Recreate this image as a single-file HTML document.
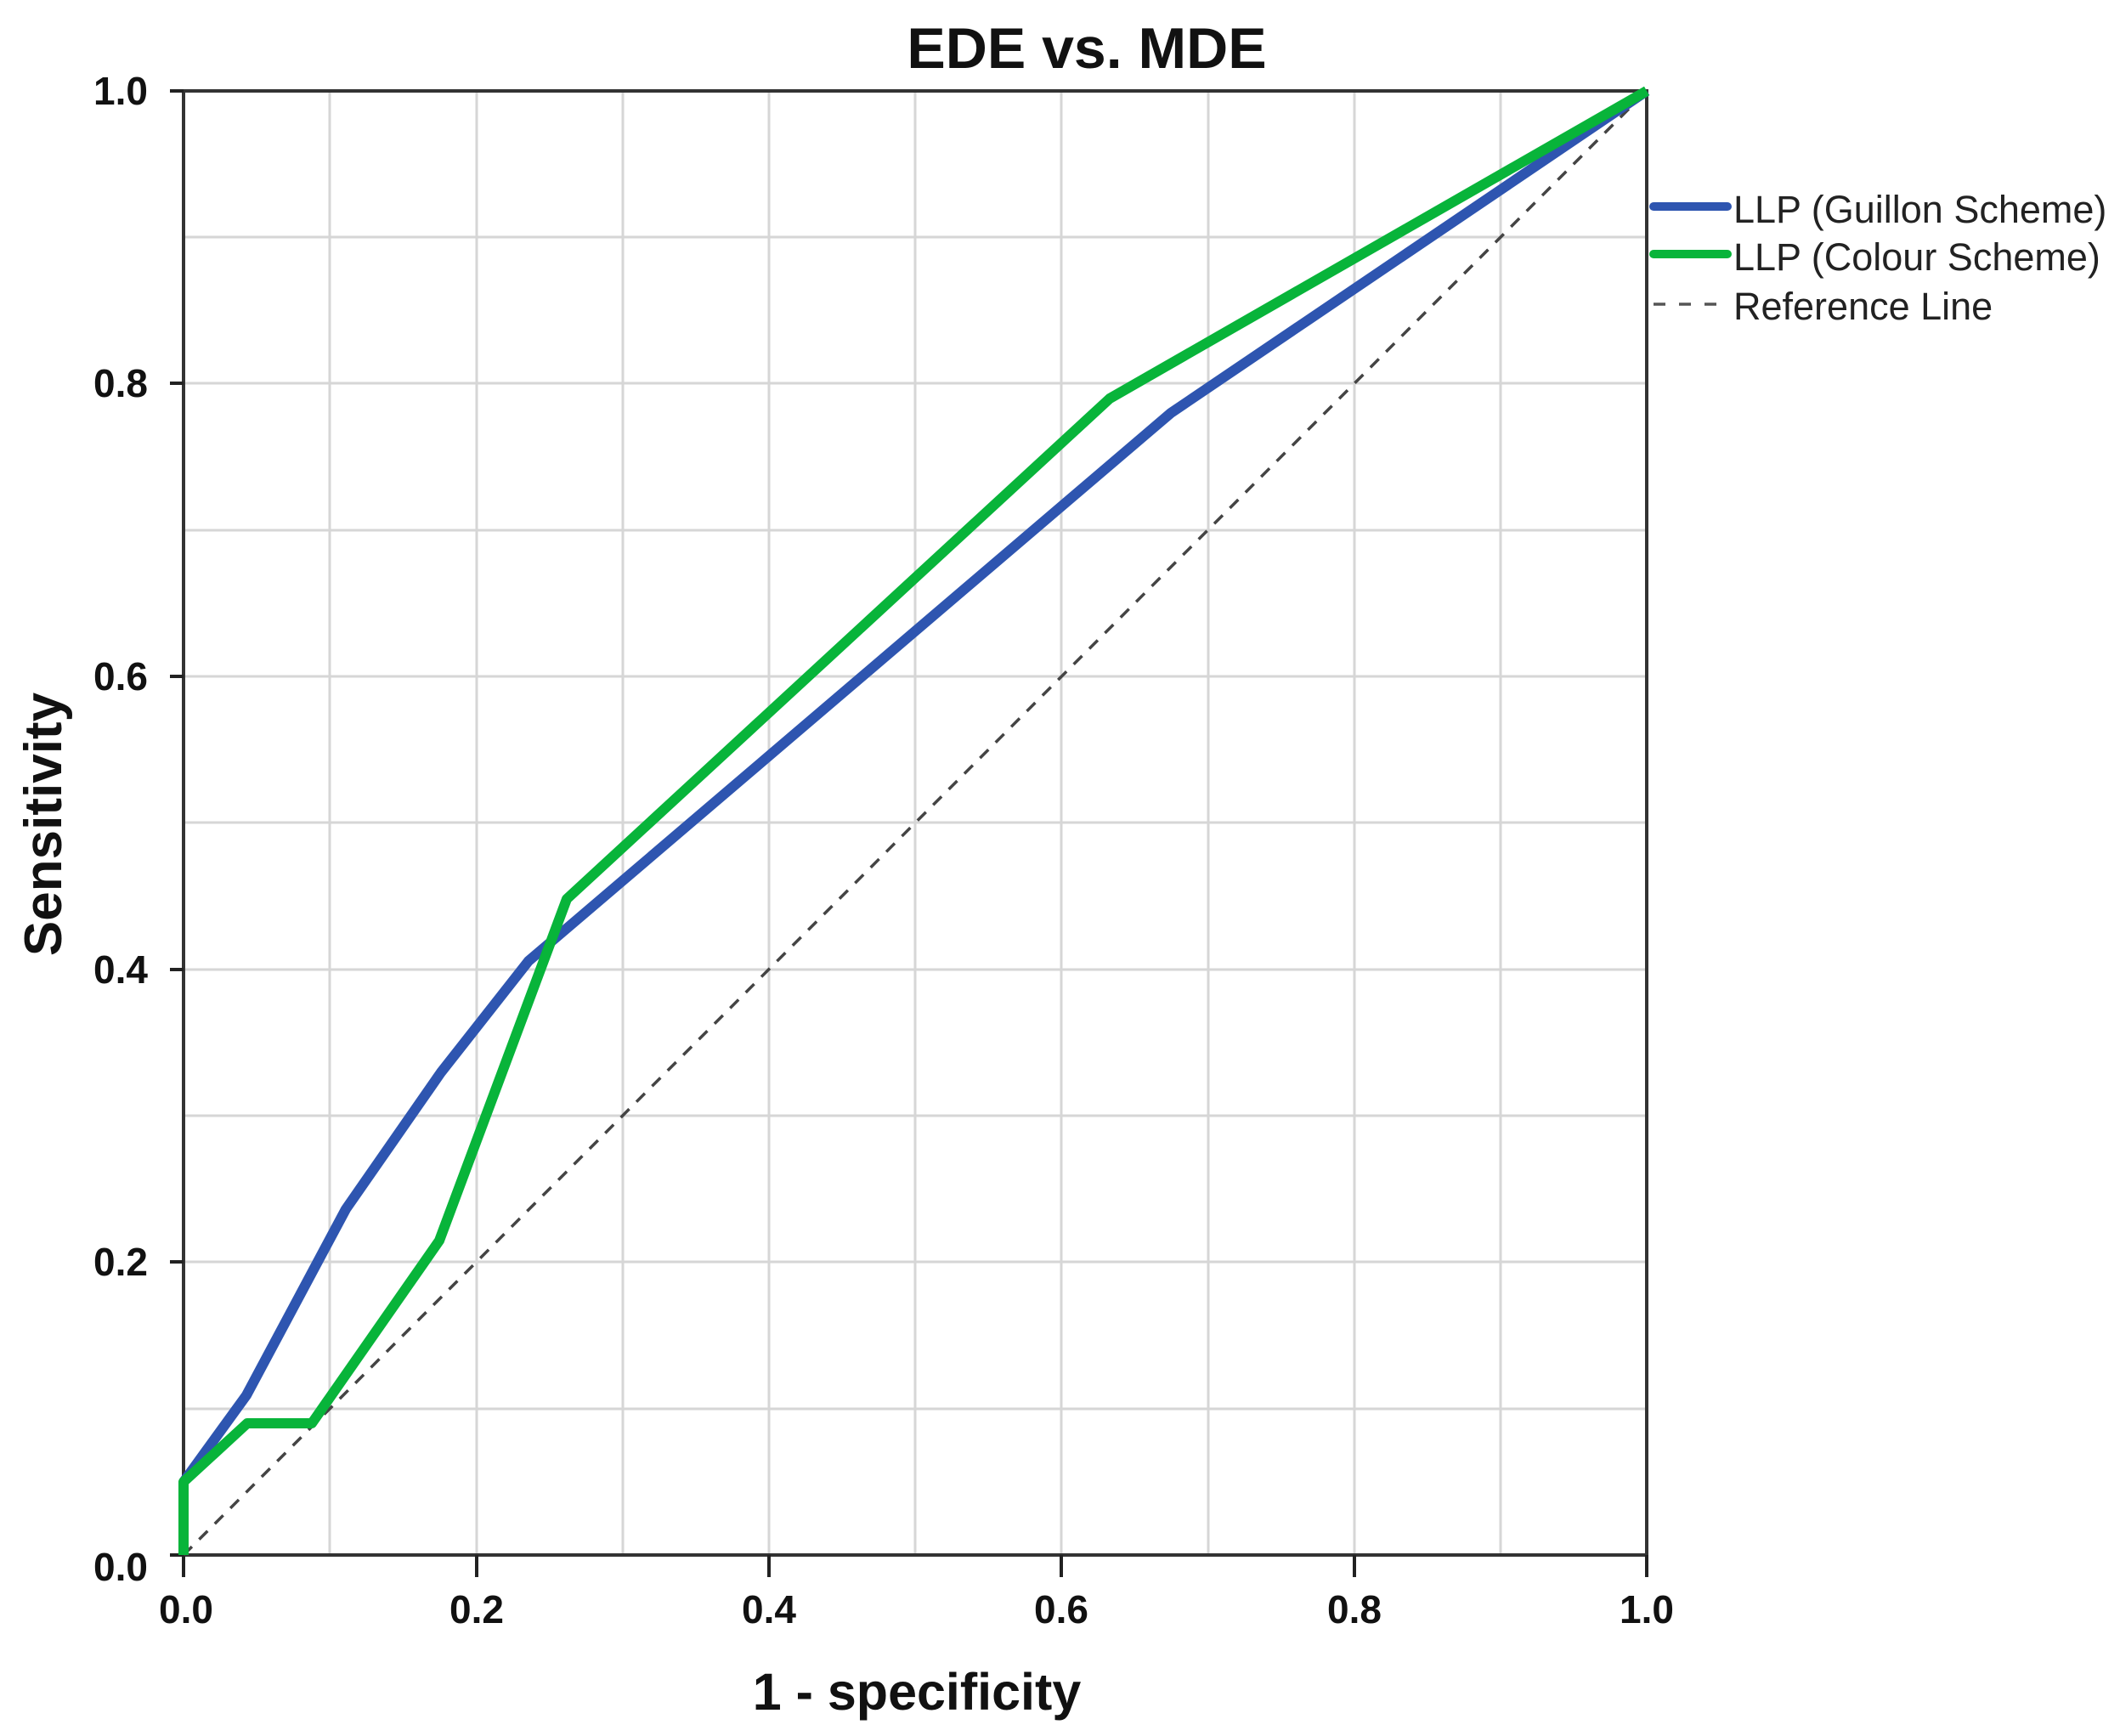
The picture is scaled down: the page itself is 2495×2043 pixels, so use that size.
<!DOCTYPE html>
<html><head><meta charset="utf-8"><style>
html,body{margin:0;padding:0;background:#fff;}
svg{display:block;}
text{font-family:"Liberation Sans",Arial,sans-serif;}
</style></head><body>
<svg width="2495" height="2043" viewBox="0 0 2495 2043" xmlns="http://www.w3.org/2000/svg">
<rect width="2495" height="2043" fill="#fff"/>
<g stroke="#d6d6d6" stroke-width="3">
<line x1="388" y1="107" x2="388" y2="1830"/><line x1="561" y1="107" x2="561" y2="1830"/>
<line x1="733" y1="107" x2="733" y2="1830"/><line x1="905" y1="107" x2="905" y2="1830"/>
<line x1="1077" y1="107" x2="1077" y2="1830"/><line x1="1249" y1="107" x2="1249" y2="1830"/>
<line x1="1422" y1="107" x2="1422" y2="1830"/><line x1="1594" y1="107" x2="1594" y2="1830"/>
<line x1="1766" y1="107" x2="1766" y2="1830"/>
<line x1="216" y1="279" x2="1938" y2="279"/><line x1="216" y1="451" x2="1938" y2="451"/>
<line x1="216" y1="624" x2="1938" y2="624"/><line x1="216" y1="796" x2="1938" y2="796"/>
<line x1="216" y1="968" x2="1938" y2="968"/><line x1="216" y1="1141" x2="1938" y2="1141"/>
<line x1="216" y1="1313" x2="1938" y2="1313"/><line x1="216" y1="1485" x2="1938" y2="1485"/>
<line x1="216" y1="1658" x2="1938" y2="1658"/>
</g>
<rect x="216" y="107" width="1722" height="1723" fill="none" stroke="#333" stroke-width="4"/>
<g stroke="#222" stroke-width="4">
<line x1="216" y1="1830" x2="216" y2="1856"/><line x1="561" y1="1830" x2="561" y2="1856"/>
<line x1="905" y1="1830" x2="905" y2="1856"/><line x1="1249" y1="1830" x2="1249" y2="1856"/>
<line x1="1594" y1="1830" x2="1594" y2="1856"/><line x1="1938" y1="1830" x2="1938" y2="1856"/>
<line x1="200" y1="107" x2="216" y2="107"/><line x1="200" y1="451" x2="216" y2="451"/>
<line x1="200" y1="796" x2="216" y2="796"/><line x1="200" y1="1141" x2="216" y2="1141"/>
<line x1="200" y1="1485" x2="216" y2="1485"/><line x1="200" y1="1830" x2="216" y2="1830"/>
</g>
<line x1="216" y1="1830" x2="1938" y2="107" stroke="#444" stroke-width="3.5" stroke-dasharray="14,12"/>
<polyline fill="none" stroke="#2e55b0" stroke-width="12" stroke-linejoin="round" points="216,1744 290,1642 407,1423 519,1262 622,1131 1378,486 1938,107"/>
<polyline fill="none" stroke="#08b43a" stroke-width="12" stroke-linejoin="round" points="216,1830 216,1744 291,1675 367,1675 517,1460 667,1058 1306,469 1938,107"/>
<g font-size="46" font-weight="bold" fill="#111" text-anchor="end">
<text x="174" y="123">1.0</text><text x="174" y="467">0.8</text><text x="174" y="812">0.6</text>
<text x="174" y="1157">0.4</text><text x="174" y="1501">0.2</text><text x="174" y="1860">0.0</text>
</g>
<g font-size="46" font-weight="bold" fill="#111" text-anchor="middle">
<text x="219" y="1910">0.0</text><text x="561" y="1910">0.2</text><text x="905" y="1910">0.4</text>
<text x="1249" y="1910">0.6</text><text x="1594" y="1910">0.8</text><text x="1938" y="1910">1.0</text>
</g>
<text x="1279" y="80" font-size="68" font-weight="bold" text-anchor="middle" fill="#111">EDE vs. MDE</text>
<text x="1079" y="2012" font-size="61" font-weight="bold" text-anchor="middle" fill="#111">1 - specificity</text>
<text transform="translate(72,970) rotate(-90)" font-size="62" font-weight="bold" text-anchor="middle" fill="#111">Sensitivity</text>
<line x1="1946" y1="243" x2="2033" y2="243" stroke="#2e55b0" stroke-width="10" stroke-linecap="round"/>
<line x1="1946" y1="299" x2="2033" y2="299" stroke="#08b43a" stroke-width="10" stroke-linecap="round"/>
<line x1="1946" y1="358" x2="2035" y2="358" stroke="#555" stroke-width="3.5" stroke-dasharray="14,16"/>
<g font-size="45" fill="#222">
<text x="2040" y="262">LLP (Guillon Scheme)</text>
<text x="2040" y="318">LLP (Colour Scheme)</text>
<text x="2040" y="376">Reference Line</text>
</g>
</svg>
</body></html>
